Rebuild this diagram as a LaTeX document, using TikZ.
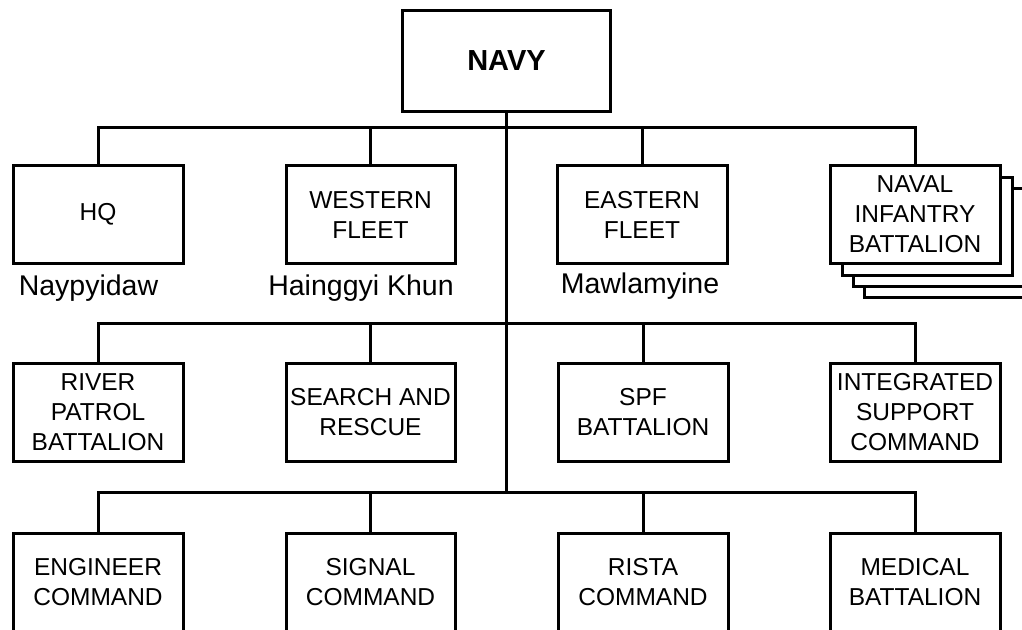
\documentclass[tikz,border=0pt]{standalone}
\usepackage{fontspec}
\setmainfont{Liberation Sans}
\begin{document}
\begin{tikzpicture}[x=1pt,y=-1pt,
  box/.style={draw=black, line width=3pt, fill=white, rectangle, inner sep=0pt,
    minimum width=170pt, minimum height=98pt, align=center,
    font=\fontsize{24.5}{30}\selectfont},
  shadowbox/.style={draw=black, line width=3pt, fill=white},
  conn/.style={draw=black, line width=3pt},
  place/.style={anchor=base, inner sep=0pt, font=\fontsize{28.5}{34}\selectfont}]
\clip (0,0) rectangle (1022,629);
\fill[white] (0,0) rectangle (1022,629);
% top
\node[box, minimum width=208pt, minimum height=101pt, font=\fontsize{29}{34}\selectfont\bfseries] (navy) at (506.5,60.5) {NAVY};
% stacked shadows behind naval infantry
\foreach \o in {34,23,12}{
  \draw[shadowbox] (830+\o,165.5+\o) rectangle (1000+\o,263.5+\o);
}
% row 1
\node[box] (hq) at (98,214.5) {HQ};
\node[box, minimum width=169pt] (west) at (370.5,214.5) {WESTERN\\FLEET};
\node[box] (east) at (642,214.5) {EASTERN\\FLEET};
\node[box] (naval) at (915,214.5) {NAVAL\\INFANTRY\\BATTALION};
\node[place] (lhq) at (88.5,295) {Naypyidaw};
\node[place] (lwest) at (361,295) {Hainggyi Khun};
\node[place] (least) at (640,293) {Mawlamyine};
% row 2
\node[box] (river) at (98,412.5) {RIVER\\PATROL\\BATTALION};
\node[box, minimum width=169pt] (sar) at (370.5,412.5) {SEARCH AND\\RESCUE};
\node[box] (spf) at (643,412.5) {SPF\\BATTALION};
\node[box] (isc) at (915,412.5) {INTEGRATED\\SUPPORT\\COMMAND};
% row 3
\node[box] (eng) at (98,582) {ENGINEER\\COMMAND};
\node[box, minimum width=169pt] (sig) at (370.5,582) {SIGNAL\\COMMAND};
\node[box] (rista) at (643,582) {RISTA\\COMMAND};
\node[box] (med) at (915,582) {\raisebox{-3pt}{\parbox{160pt}{\centering MEDICAL\\BATTALION}}};
% buses
\coordinate (b1) at (506.5,127);
\coordinate (b2) at (506.5,323);
\coordinate (b3) at (506.5,492);
\draw[conn] (navy.south) -- (b3);
\draw[conn] (hq.north) |- (b1) -| (naval.north);
\draw[conn] (west.north) -- (west.north |- b1);
\draw[conn] (east.north) -- (east.north |- b1);
\draw[conn] (river.north) |- (b2) -| (isc.north);
\draw[conn] (sar.north) -- (sar.north |- b2);
\draw[conn] (spf.north) -- (spf.north |- b2);
\draw[conn] (eng.north) |- (b3) -| (med.north);
\draw[conn] (sig.north) -- (sig.north |- b3);
\draw[conn] (rista.north) -- (rista.north |- b3);
\end{tikzpicture}
\end{document}
